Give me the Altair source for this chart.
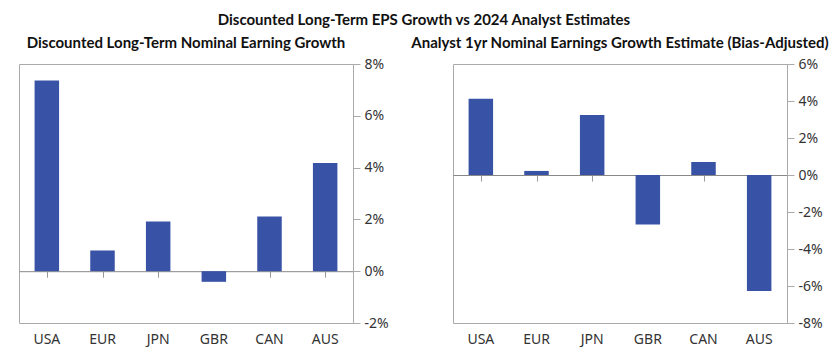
import altair as alt
import pandas as pd

countries = ["USA", "EUR", "JPN", "GBR", "CAN", "AUS"]
long_term = [7.36, 0.80, 1.92, -0.41, 2.11, 4.18]
analyst = [4.12, 0.22, 3.25, -2.67, 0.70, -6.27]

left_ticks = [-2, 0, 2, 4, 6, 8]
right_ticks = [-8, -6, -4, -2, 0, 2, 4, 6]

main_title = "Discounted Long-Term EPS Growth vs 2024 Analyst Estimates"
left_title = "Discounted Long-Term Nominal Earning Growth"
right_title = "Analyst 1yr Nominal Earnings Growth Estimate (Bias-Adjusted)"

W, H = 334, 259
BAR = "#3853a5"
GRAY = "#aaaaaa"
LABEL_FONT = "Noto Sans"
TITLE_FONT = "Lato"


def panel(values, ticks, title):
    df = pd.DataFrame({"country": countries, "value": values})
    lo, hi = min(ticks), max(ticks)
    zero_offset = -H * (0 - lo) / (hi - lo)
    yscale = alt.Scale(domain=[lo, hi], nice=False, zero=False)
    yaxis = alt.Axis(orient="right", values=ticks, grid=False,
                     domainColor=GRAY, tickColor=GRAY, tickSize=7,
                     labelExpr="datum.value + '%'", labelFont=LABEL_FONT,
                     labelFontSize=14, labelColor="#333333", labelPadding=4)
    bars = alt.Chart(df).mark_bar(color=BAR).encode(
        x=alt.X("country:N", sort=countries, title=None,
                scale=alt.Scale(paddingInner=0.56, paddingOuter=0.28),
                axis=alt.Axis(orient="bottom", domain=False, ticks=False,
                              labelAngle=0, labelFont=LABEL_FONT, labelFontSize=14,
                              labelColor="#333333", labelPadding=9)),
        y=alt.Y("value:Q", title=None, scale=yscale, axis=yaxis),
    )
    zero = alt.Chart(df).mark_point(opacity=0).encode(
        x=alt.X("country:N", sort=countries, title=None,
                scale=alt.Scale(paddingInner=0, paddingOuter=0),
                axis=alt.Axis(orient="bottom", offset=zero_offset, labels=False,
                              domainColor="#888888", tickColor="#999999",
                              tickSize=6, bandPosition=0, domainWidth=1)),
        y=alt.Y("value:Q", title=None, scale=yscale, axis=yaxis),
    )
    return alt.layer(bars, zero).resolve_scale(x="independent").resolve_axis(
        x="independent"
    ).properties(
        width=W, height=H,
        title=alt.TitleParams(title, font=TITLE_FONT, fontSize=15, fontWeight="bold",
                              color="#111111", anchor="middle", offset=6),
    )


chart = alt.hconcat(
    panel(long_term, left_ticks, left_title),
    panel(analyst, right_ticks, right_title),
    spacing=21,
).properties(
    title=alt.TitleParams(main_title, font=TITLE_FONT, fontSize=15, fontWeight="bold",
                          color="#111111", anchor="middle", offset=8),
    padding={"left": 10, "top": 4, "right": 0, "bottom": 0},
).configure_view(stroke=GRAY, strokeWidth=1)

chart.save("out.html", embed_options={"renderer": "svg", "actions": False})
